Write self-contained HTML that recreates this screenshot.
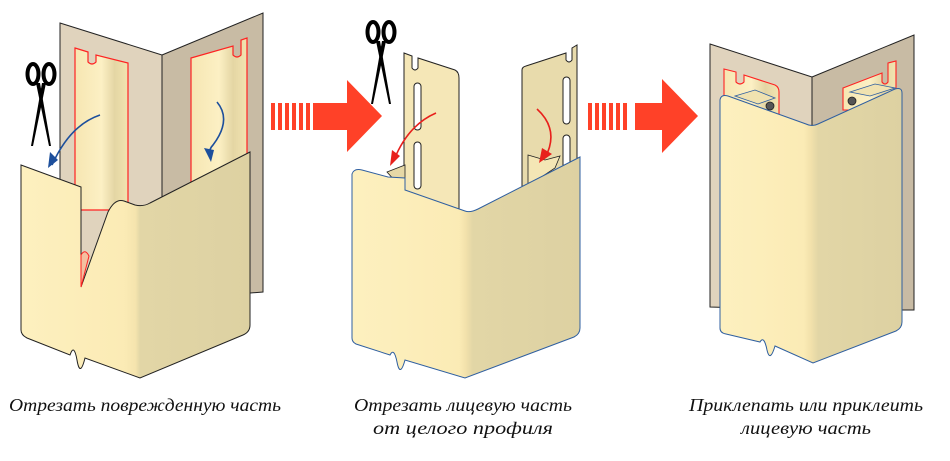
<!DOCTYPE html>
<html><head><meta charset="utf-8"><style>
html,body{margin:0;padding:0;background:#fff;width:950px;height:461px;overflow:hidden}
svg{display:block}
text{font-family:"Liberation Serif",serif;font-style:italic;font-size:18px;fill:#111}
</style></head><body>
<svg width="950" height="461" viewBox="0 0 950 461" xmlns="http://www.w3.org/2000/svg">
<defs>
<linearGradient id="cv1" x1="21" y1="0" x2="250" y2="0" gradientUnits="userSpaceOnUse">
<stop offset="0" stop-color="#fdf0bf"/><stop offset="0.45" stop-color="#fbebb5"/><stop offset="0.5" stop-color="#f5e4ae"/><stop offset="0.52" stop-color="#e2d6a6"/><stop offset="1" stop-color="#ddd1a2"/></linearGradient>
<linearGradient id="cv2" x1="352" y1="0" x2="580" y2="0" gradientUnits="userSpaceOnUse">
<stop offset="0" stop-color="#fdf0bf"/><stop offset="0.47" stop-color="#fbebb5"/><stop offset="0.5" stop-color="#f2e1ab"/><stop offset="0.53" stop-color="#e2d6a6"/><stop offset="1" stop-color="#ddd1a2"/></linearGradient>
<linearGradient id="cv3" x1="720" y1="0" x2="902" y2="0" gradientUnits="userSpaceOnUse">
<stop offset="0" stop-color="#fdf0bf"/><stop offset="0.46" stop-color="#fbebb5"/><stop offset="0.5" stop-color="#f2e1ab"/><stop offset="0.54" stop-color="#e2d6a6"/><stop offset="1" stop-color="#ddd1a2"/></linearGradient>
<linearGradient id="ch" x1="0" y1="0" x2="1" y2="0">
<stop offset="0" stop-color="#f6e6b2"/><stop offset="0.5" stop-color="#fcf0c4"/><stop offset="0.75" stop-color="#e4d6a4"/><stop offset="1" stop-color="#f2e4b0"/></linearGradient>
<g id="sc">
<ellipse cx="-8" cy="0" rx="5.5" ry="10" fill="none" stroke="#000" stroke-width="4"/>
<ellipse cx="8" cy="0" rx="5.5" ry="10" fill="none" stroke="#000" stroke-width="4"/>
<polygon points="-5,9 -1,9 10,72 8,72" fill="#000"/>
<polygon points="5,9 1,9 -10,72 -8,72" fill="#000"/>
<circle cx="0" cy="30" r="2" fill="#000"/>
</g>
</defs>

<!-- PANEL 1 -->
<polygon points="60,23 162,55 162,300 60,300" fill="#e0d3bd" stroke="#222" stroke-width="1"/>
<polygon points="162,55 263,13 263,292 162,300" fill="#c8bba4" stroke="#222" stroke-width="1"/>
<path d="M75,48 L88,52 L88,62 Q92,66 96,62 L96,55 L128,63 L128,210 L75,210 Z" fill="url(#ch)" stroke="#f22" stroke-width="1.2"/>
<path d="M191,58 L233,46 L233,55 Q237,59 241,55 L241,40 L247,38 L247,200 L191,200 Z" fill="url(#ch)" stroke="#f22" stroke-width="1.2"/>
<path d="M21,165 L81,187 L81,287 L108,212 Q115,198 124,201 L135,205 Q143,207 150,203 L250,152 L250,325 Q250,332 243,335 L140,378 L85,358 Q80,378 77,360 Q74,343 70,355 L27,338 Q21,335 21,330 Z" fill="url(#cv1)" stroke="#222" stroke-width="1"/>
<path d="M81,287 L81,255 Q85,248 89,256 Z" fill="#f4c0a0" stroke="#f22" stroke-width="1"/>
<path d="M100,115 Q70,125 52,165" fill="none" stroke="#1d4f9c" stroke-width="1.6"/>
<polygon points="48,168 50,152 58,160" fill="#1d4f9c"/>
<path d="M217,102 Q232,120 213,145 Q208,150 210,158" fill="none" stroke="#1d4f9c" stroke-width="1.6"/>
<polygon points="211,162 204,148 214,150" fill="#1d4f9c"/>
<use href="#sc" x="41" y="74"/>

<!-- arrow 1 -->
<g fill="#ff4128">
<rect x="271" y="103" width="4" height="27"/><rect x="278" y="103" width="4" height="27"/><rect x="285" y="103" width="4" height="27"/><rect x="292" y="103" width="4" height="27"/><rect x="299" y="103" width="4" height="27"/><rect x="306" y="103" width="4" height="27"/>
<polygon points="313,103 347,103 347,80 382,116 347,152 347,130 313,130"/>
</g>

<!-- PANEL 2 -->
<path d="M404,53 L412,56 L412,68 Q415,72 418,68 L418,58 L455,70 Q459,72 459,78 L459,215 L404,215 Z" fill="#f5e7b7" stroke="#222" stroke-width="1"/>
<path d="M522,70 Q522,67 526,66 L566,53 L566,60 Q569,64 572,60 L572,48 L577,45 L577,200 L522,200 Z" fill="#e8dbac" stroke="#222" stroke-width="1"/>
<g fill="#fff" stroke="#222" stroke-width="1">
<rect x="414" y="83" width="7" height="47" rx="3.5"/><rect x="414" y="142" width="7" height="47" rx="3.5"/>
<rect x="563" y="77" width="7" height="47" rx="3.5"/><rect x="563" y="135" width="7" height="47" rx="3.5"/>
</g>
<polygon points="387,172 405,165 405,192" fill="#e6d8a6" stroke="#222" stroke-width="0.8"/>
<polygon points="528,155 545,160 560,156 555,168 528,186" fill="#f4e6b5" stroke="#222" stroke-width="0.8"/>
<path d="M352,174 Q354,168 362,170 L388,177 L405,178 L405,190 L465,211 Q470,213 478,209 L580,157 L580,328 Q580,334 574,337 L465,378 L405,360 Q400,378 397,362 Q394,347 390,355 L356,344 Q352,342 352,338 Z" fill="url(#cv2)" stroke="#2f5fa0" stroke-width="1"/>
<path d="M436,113 Q408,125 394,160" fill="none" stroke="#e8201c" stroke-width="1.6"/>
<polygon points="390,166 392,150 400,156" fill="#e8201c"/>
<path d="M537,109 Q560,130 545,158" fill="none" stroke="#e8201c" stroke-width="1.6"/>
<polygon points="539,163 542,148 552,154" fill="#e8201c"/>
<use href="#sc" x="381" y="32"/>

<!-- arrow 2 -->
<g fill="#ff4128">
<rect x="588" y="103" width="4" height="27"/><rect x="595" y="103" width="4" height="27"/><rect x="602" y="103" width="4" height="27"/><rect x="609" y="103" width="4" height="27"/><rect x="616" y="103" width="4" height="27"/><rect x="623" y="103" width="4" height="27"/>
<polygon points="635,103 662,103 662,79 698,116 662,153 662,130 635,130"/>
</g>

<!-- PANEL 3 -->
<polygon points="710,44 812,77 812,310 710,307" fill="#e0d3bd" stroke="#222" stroke-width="1"/>
<polygon points="812,77 914,35 914,310 812,310" fill="#c8bba4" stroke="#222" stroke-width="1"/>
<path d="M724,69 L736,72 L736,82 Q740,86 744,82 L744,75 L775,85 Q779,87 779,92 L779,120 L724,120 Z" fill="url(#ch)" stroke="#f22" stroke-width="1.1"/>
<path d="M843,88 L882,73 L882,82 Q885,86 888,82 L888,63 L896,61 L896,110 L843,110 Z" fill="url(#ch)" stroke="#f22" stroke-width="1.1"/>
<polygon points="735,96 755,90 775,98 758,104" fill="#f0e2b0" stroke="#2f5fa0" stroke-width="0.8"/>
<polygon points="850,92 875,84 895,88 870,96" fill="#f0e2b0" stroke="#2f5fa0" stroke-width="0.8"/>
<circle cx="770" cy="106" r="4" fill="#555" stroke="#222" stroke-width="0.8"/>
<circle cx="852" cy="101" r="4" fill="#555" stroke="#222" stroke-width="0.8"/>
<path d="M720,100 Q721,94 728,96 L806,124 Q812,127 818,124 L895,89 Q902,87 902,93 L902,322 Q902,328 896,331 L813,363 L775,346 Q770,363 767,350 Q764,335 760,342 L726,334 Q720,333 720,328 Z" fill="url(#cv3)" stroke="#2f5fa0" stroke-width="1"/>

<!-- captions -->
<text x="145" y="411" text-anchor="middle" textLength="272" lengthAdjust="spacingAndGlyphs">Отрезать поврежденную часть</text>
<text x="463" y="411" text-anchor="middle" textLength="218" lengthAdjust="spacingAndGlyphs">Отрезать лицевую часть</text>
<text x="463" y="434" text-anchor="middle" textLength="180" lengthAdjust="spacingAndGlyphs">от целого профиля</text>
<text x="806" y="411" text-anchor="middle" textLength="234" lengthAdjust="spacingAndGlyphs">Приклепать или приклеить</text>
<text x="806" y="434" text-anchor="middle" textLength="130" lengthAdjust="spacingAndGlyphs">лицевую часть</text>
</svg>
</body></html>
